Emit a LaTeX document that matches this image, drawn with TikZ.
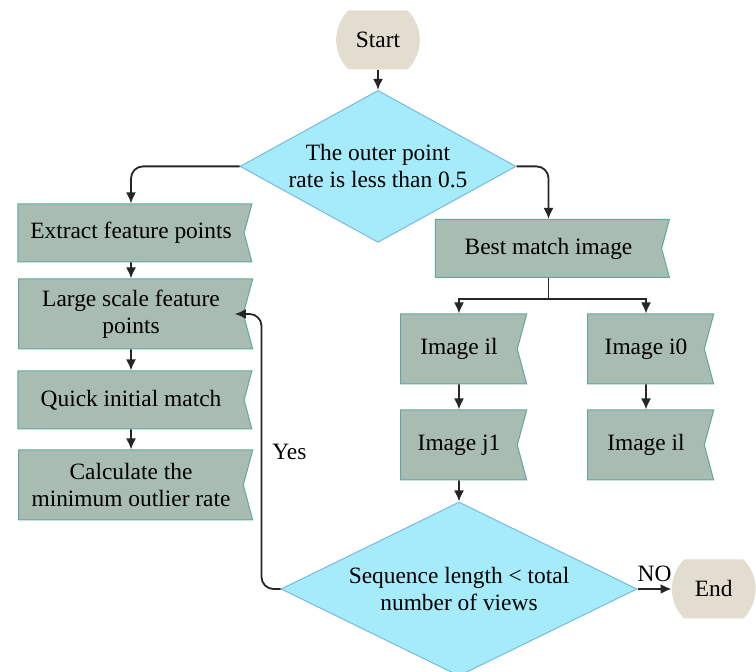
\documentclass[tikz,border=0pt]{standalone}
\usepackage{fontspec}
\setmainfont{Liberation Serif}
\usepackage{tikz}
\usetikzlibrary{positioning,shapes.geometric,shapes.symbols,shapes.misc,arrows.meta}
\definecolor{stepfill}{HTML}{A8BCB1}
\definecolor{stepline}{HTML}{5FA99F}
\definecolor{testfill}{HTML}{A6EBFA}
\definecolor{testline}{HTML}{78B8E4}
\definecolor{termfill}{HTML}{E3DDCF}
\newcommand{\flowfont}{\fontsize{11.7}{13.5}\selectfont}
\tikzset{
  stepbox/.style = {signal, signal from=east, signal to=nowhere, signal pointer angle=150,
                    draw=stepline, line width=0.5pt, fill=stepfill, align=center,
                    font=\flowfont, inner sep=1pt},
  wide/.style    = {stepbox, minimum width=117pt, minimum height=29pt},
  tall/.style    = {wide, minimum height=35pt},
  small/.style   = {stepbox, minimum width=63pt, minimum height=35pt},
  test/.style    = {diamond, draw=testline, line width=0.5pt, fill=testfill, align=center,
                    inner sep=0pt, font=\flowfont},
  term/.style    = {rounded rectangle, rounded rectangle arc length=90, fill=termfill,
                    minimum width=48.5pt, minimum height=29.5pt, font=\flowfont},
  flow/.style    = {-{Latex[length=5.5pt,width=5pt]}, line width=0.9pt, draw=black!85},
  lbl/.style     = {font=\flowfont, inner sep=1pt},
}

\begin{document}
\begin{tikzpicture}[x=0.5pt, y=-0.5pt]
    \useasboundingbox (0,0) rectangle (756,672);
    % Top: start and first test
    \node[term] (start) at (378,40) {Start};
    \node[test, aspect=1.82, minimum width=138pt, minimum height=76pt, below=10pt of start] (outer) {The outer point\\rate is less than 0.5};
    % Left column: feature matching
    \node[wide] (extract) at (131,233) {Extract feature points};
    \node[tall, below=8pt of extract]    (large) {Large scale feature\\points};
    \node[wide, below=10.5pt of large]   (quick) {Quick initial match};
    \node[tall, below=10pt of quick]     (calc)  {Calculate the\\minimum outlier rate};
    % Right column: image pairs
    \node[wide] (best) at (548.5,248.5) {Best match image};
    \node[small] (imgil) at (459,349) {Image il};
    \node[small] (imgio) at (646,349) {Image i0};
    \node[small, below=12.5pt of imgil] (imgjl)  {Image j1};
    \node[small, below=12.5pt of imgio] (imgilb) {Image il};
    % Bottom: second test and end
    \node[test, aspect=2.05, minimum width=178pt, minimum height=87pt, below=10.5pt of imgjl] (seq) {Sequence length < total\\number of views};
    \node[term, right=17pt of seq] (finish) {End};

    \draw[flow] (start) -- (outer);
    \draw[flow, rounded corners=6pt] (outer.west) -| (extract.north);
    \draw[flow, rounded corners=6pt] (outer.east) -| (best.north);
    \draw[flow] (extract) -- (large);
    \draw[flow] (large) -- (quick);
    \draw[flow] (quick) -- (calc);
    \path (best.south) ++(0,-10.5pt) coordinate (split);
    \draw[line width=0.9pt, draw=black!85] (best.south) -- (split);
    \draw[flow] (split) -| (imgil.north);
    \draw[flow] (split) -| (imgio.north);
    \draw[flow] (imgil) -- (imgjl);
    \draw[flow] (imgio) -- (imgilb);
    \draw[flow] (imgjl) -- (seq);
    \draw[flow] (seq) -- node[lbl, above=2pt]{NO} (finish);
    \draw[flow, rounded corners=6pt] (seq.west) -- ++(-9.5pt,0) |- node[lbl, pos=0.25, right=4pt]{Yes} ([xshift=-4.5pt]large.east);
\end{tikzpicture}
\end{document}
